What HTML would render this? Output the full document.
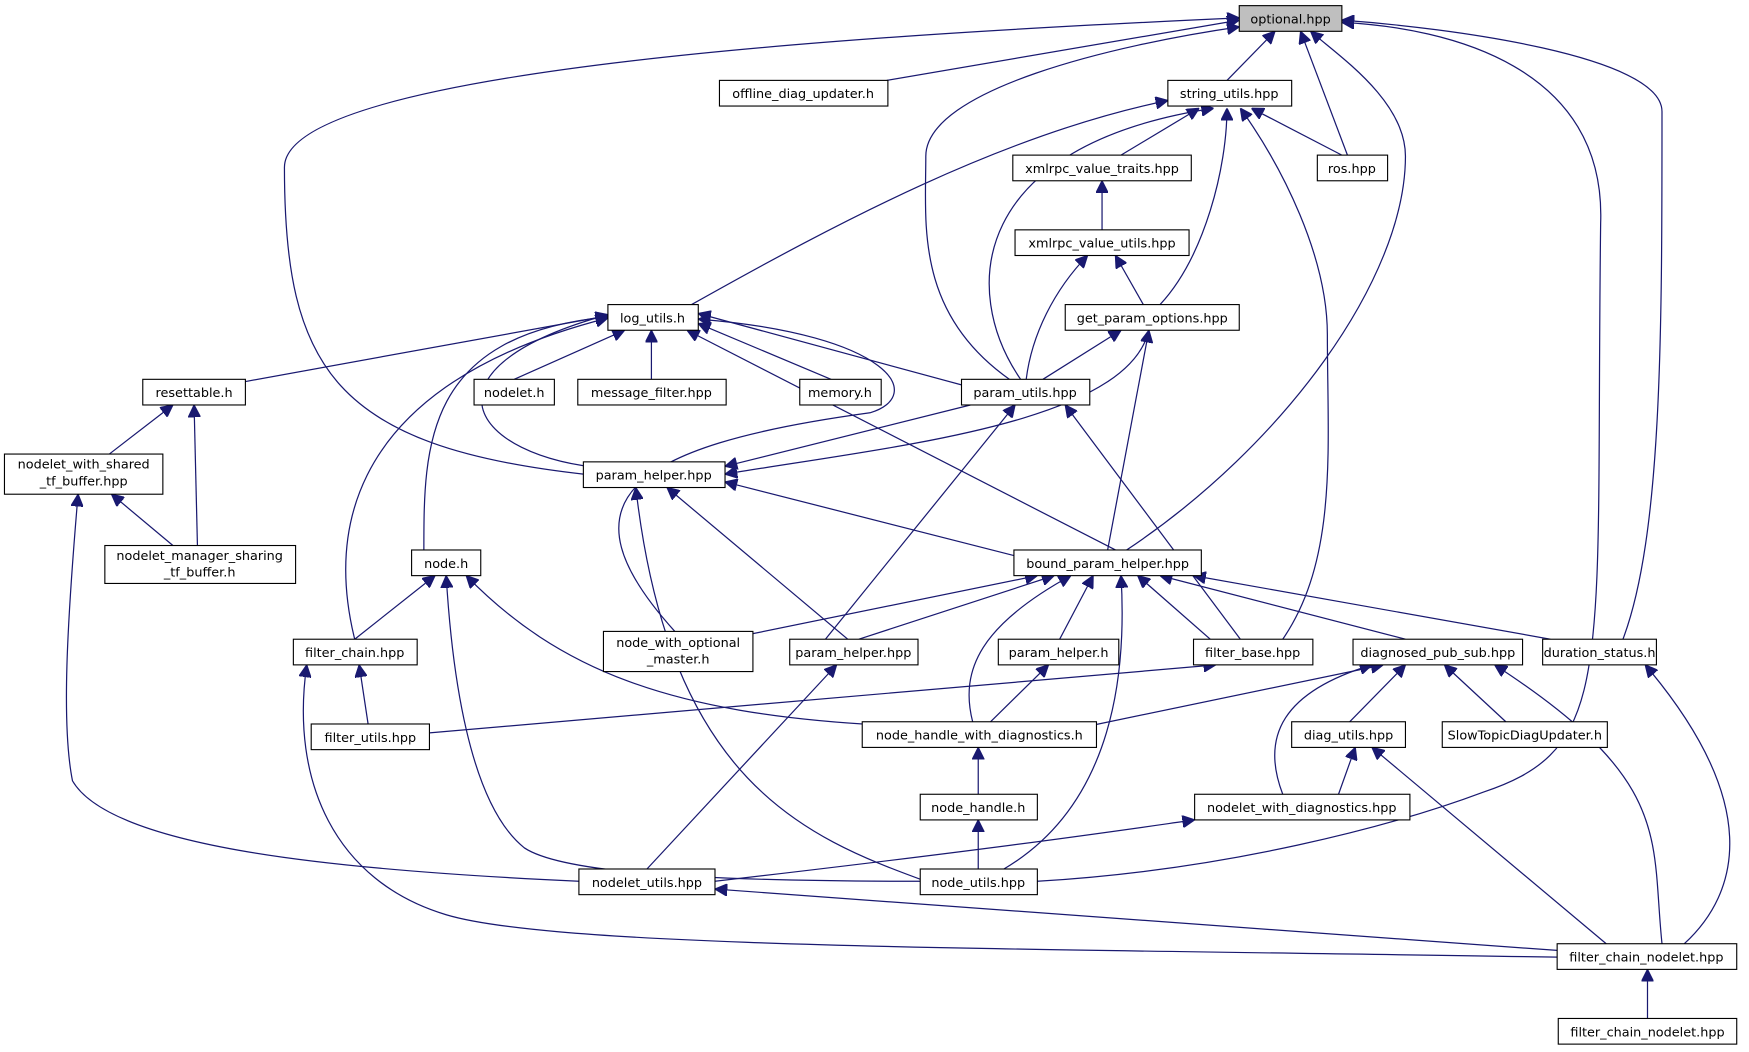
<!DOCTYPE html>
<html><head><meta charset="utf-8"><style>
html,body{margin:0;padding:0;background:#fff;}
svg{display:block}
text{font-family:"DejaVu Sans","Liberation Sans",sans-serif;font-size:11.5px;fill:#000;text-anchor:middle}
.n{fill:#fff;stroke:#000;stroke-width:1}
.e{fill:none;stroke:#191970;stroke-width:1.1}
</style></head><body>
<svg width="1749" height="1052" viewBox="0 0 1568 943" xmlns="http://www.w3.org/2000/svg">
<defs><marker id="a" viewBox="0 0 10 10" refX="10" refY="5" markerWidth="11" markerHeight="11" markerUnits="userSpaceOnUse" orient="auto"><path d="M0,0 L10,5 L0,10 z" fill="#191970" stroke="#191970"/></marker></defs>
<g class="e" marker-end="url(#a)">
<path d="M795,72 L1111,18"/>
<path d="M1100,72 L1143,28"/>
<path d="M1208,139 L1166,28"/>
<path d="M1005,139 L1075,97"/>
<path d="M1203,139 L1122,97"/>
<path d="M988,206 L988,162"/>
<path d="M1025,273 L1000,229"/>
<path d="M1040,273 C1080,230 1100,150 1100,97"/>
<path d="M920,340 C925,300 945,260 975,229"/>
<path d="M935,340 L1005,296"/>
<path d="M915,340 C860,260 870,130 1088,97"/>
<path d="M905,340 C820,280 830,200 830,140 C830,80 1000,40 1111,24"/>
<path d="M620,273 C750,200 900,120 1047,90"/>
<path d="M862,345 L626,281"/>
<path d="M461,340 L560,296"/>
<path d="M584,340 L584,296"/>
<path d="M745,340 L626,290"/>
<path d="M220,342 L545,283"/>
<path d="M1000,493 L616,296"/>
<path d="M545,420 C420,410 370,330 545,282"/>
<path d="M380,493 C380,400 380,300 545,284"/>
<path d="M318,573 C300,500 290,350 545,285"/>
<path d="M605,566 C500,450 560,400 780,370 C830,355 800,300 626,286"/>
<path d="M1030,296 C1010,380 800,400 650,425"/>
<path d="M870,363 L650,418"/>
<path d="M523,425 C300,400 255,330 255,150 C255,60 800,30 1111,16"/>
<path d="M98,407 L155,363"/>
<path d="M177,489 L174,363"/>
<path d="M155,489 L100,443"/>
<path d="M909,498 L650,432"/>
<path d="M993,493 L1030,296"/>
<path d="M1010,493 C1150,400 1260,250 1260,140 C1260,90 1200,50 1175,28"/>
<path d="M318,573 L390,516"/>
<path d="M330,649 L322,596"/>
<path d="M385,657 L1090,596"/>
<path d="M790,650 C600,640 500,600 418,516"/>
<path d="M825,790 C600,790 500,780 470,760 C420,720 405,600 400,516"/>
<path d="M675,568 L930,516"/>
<path d="M770,573 L945,516"/>
<path d="M740,573 L910,363"/>
<path d="M760,573 L598,437"/>
<path d="M950,573 L980,516"/>
<path d="M1085,573 L1020,516"/>
<path d="M1112,573 L955,363"/>
<path d="M1150,573 C1200,500 1190,400 1190,300 C1190,230 1150,150 1112,97"/>
<path d="M1260,573 L1040,516"/>
<path d="M1390,573 L1070,516"/>
<path d="M1455,573 C1490,480 1490,300 1490,100 C1490,50 1300,25 1203,18"/>
<path d="M872,647 C860,600 880,560 960,516"/>
<path d="M888,647 L940,596"/>
<path d="M980,650 L1240,596"/>
<path d="M900,779 C1000,720 1010,600 1005,516"/>
<path d="M830,790 C720,750 600,700 570,437"/>
<path d="M930,790 C1100,780 1250,740 1330,710 C1450,670 1430,600 1435,200 C1440,60 1300,25 1203,20"/>
<path d="M1210,647 L1260,596"/>
<path d="M1350,647 L1295,596"/>
<path d="M877,712 L877,670"/>
<path d="M877,779 L877,735"/>
<path d="M1200,712 L1215,670"/>
<path d="M1150,712 C1130,660 1150,620 1230,596"/>
<path d="M641,790 C900,760 1000,745 1071,735"/>
<path d="M580,779 L750,596"/>
<path d="M519,790 C300,780 100,760 65,700 C55,650 60,560 70,443"/>
<path d="M1396,852 L641,797"/>
<path d="M1396,858 C900,850 500,850 400,820 C300,790 260,700 275,596"/>
<path d="M1440,846 L1230,670"/>
<path d="M1490,846 C1480,750 1500,700 1340,596"/>
<path d="M1510,846 C1560,800 1580,720 1475,596"/>
<path d="M1477,913 L1477,869"/>
</g>
<g>
<rect x="1111" y="5" width="92" height="23" fill="#bfbfbf" stroke="#000"/><text x="1157" y="21">optional.hpp</text>
<rect class="n" x="645" y="72" width="151" height="23"/><text x="720" y="88">offline_diag_updater.h</text>
<rect class="n" x="1047" y="72" width="111" height="23"/><text x="1102" y="88">string_utils.hpp</text>
<rect class="n" x="908" y="139" width="160" height="23"/><text x="988" y="155">xmlrpc_value_traits.hpp</text>
<rect class="n" x="1181" y="139" width="63" height="23"/><text x="1212" y="155">ros.hpp</text>
<rect class="n" x="910" y="206" width="156" height="23"/><text x="988" y="222">xmlrpc_value_utils.hpp</text>
<rect class="n" x="545" y="273" width="81" height="23"/><text x="585" y="289">log_utils.h</text>
<rect class="n" x="955" y="273" width="156" height="23"/><text x="1033" y="289">get_param_options.hpp</text>
<rect class="n" x="128" y="340" width="92" height="23"/><text x="174" y="356">resettable.h</text>
<rect class="n" x="425" y="340" width="72" height="23"/><text x="461" y="356">nodelet.h</text>
<rect class="n" x="518" y="340" width="133" height="23"/><text x="584" y="356">message_filter.hpp</text>
<rect class="n" x="717" y="340" width="73" height="23"/><text x="753" y="356">memory.h</text>
<rect class="n" x="862" y="340" width="115" height="23"/><text x="919" y="356">param_utils.hpp</text>
<rect class="n" x="4" y="407" width="142" height="36"/><text x="75" y="420">nodelet_with_shared</text><text x="75" y="435">_tf_buffer.hpp</text>
<rect class="n" x="523" y="414" width="127" height="23"/><text x="586" y="430">param_helper.hpp</text>
<rect class="n" x="369" y="493" width="62" height="23"/><text x="400" y="509">node.h</text>
<rect class="n" x="909" y="493" width="168" height="23"/><text x="993" y="509">bound_param_helper.hpp</text>
<rect class="n" x="94" y="489" width="171" height="34"/><text x="179" y="502">nodelet_manager_sharing</text><text x="179" y="517">_tf_buffer.h</text>
<rect class="n" x="263" y="573" width="111" height="23"/><text x="318" y="589">filter_chain.hpp</text>
<rect class="n" x="541" y="566" width="134" height="36"/><text x="608" y="580">node_with_optional</text><text x="608" y="595">_master.h</text>
<rect class="n" x="708" y="573" width="115" height="23"/><text x="765" y="589">param_helper.hpp</text>
<rect class="n" x="895" y="573" width="108" height="23"/><text x="949" y="589">param_helper.h</text>
<rect class="n" x="1070" y="573" width="107" height="23"/><text x="1123" y="589">filter_base.hpp</text>
<rect class="n" x="1213" y="573" width="152" height="23"/><text x="1289" y="589">diagnosed_pub_sub.hpp</text>
<rect class="n" x="1383" y="573" width="102" height="23"/><text x="1434" y="589">duration_status.h</text>
<rect class="n" x="279" y="649" width="106" height="23"/><text x="332" y="665">filter_utils.hpp</text>
<rect class="n" x="773" y="647" width="210" height="23"/><text x="878" y="663">node_handle_with_diagnostics.h</text>
<rect class="n" x="1158" y="647" width="102" height="23"/><text x="1209" y="663">diag_utils.hpp</text>
<rect class="n" x="1293" y="647" width="148" height="23"/><text x="1367" y="663">SlowTopicDiagUpdater.h</text>
<rect class="n" x="825" y="712" width="105" height="23"/><text x="877" y="728">node_handle.h</text>
<rect class="n" x="1071" y="712" width="193" height="23"/><text x="1167" y="728">nodelet_with_diagnostics.hpp</text>
<rect class="n" x="519" y="779" width="122" height="23"/><text x="580" y="795">nodelet_utils.hpp</text>
<rect class="n" x="825" y="779" width="105" height="23"/><text x="877" y="795">node_utils.hpp</text>
<rect class="n" x="1396" y="846" width="161" height="23"/><text x="1476" y="862">filter_chain_nodelet.hpp</text>
<rect class="n" x="1397" y="913" width="160" height="23"/><text x="1477" y="929">filter_chain_nodelet.hpp</text>
</g>
</svg>
</body></html>
